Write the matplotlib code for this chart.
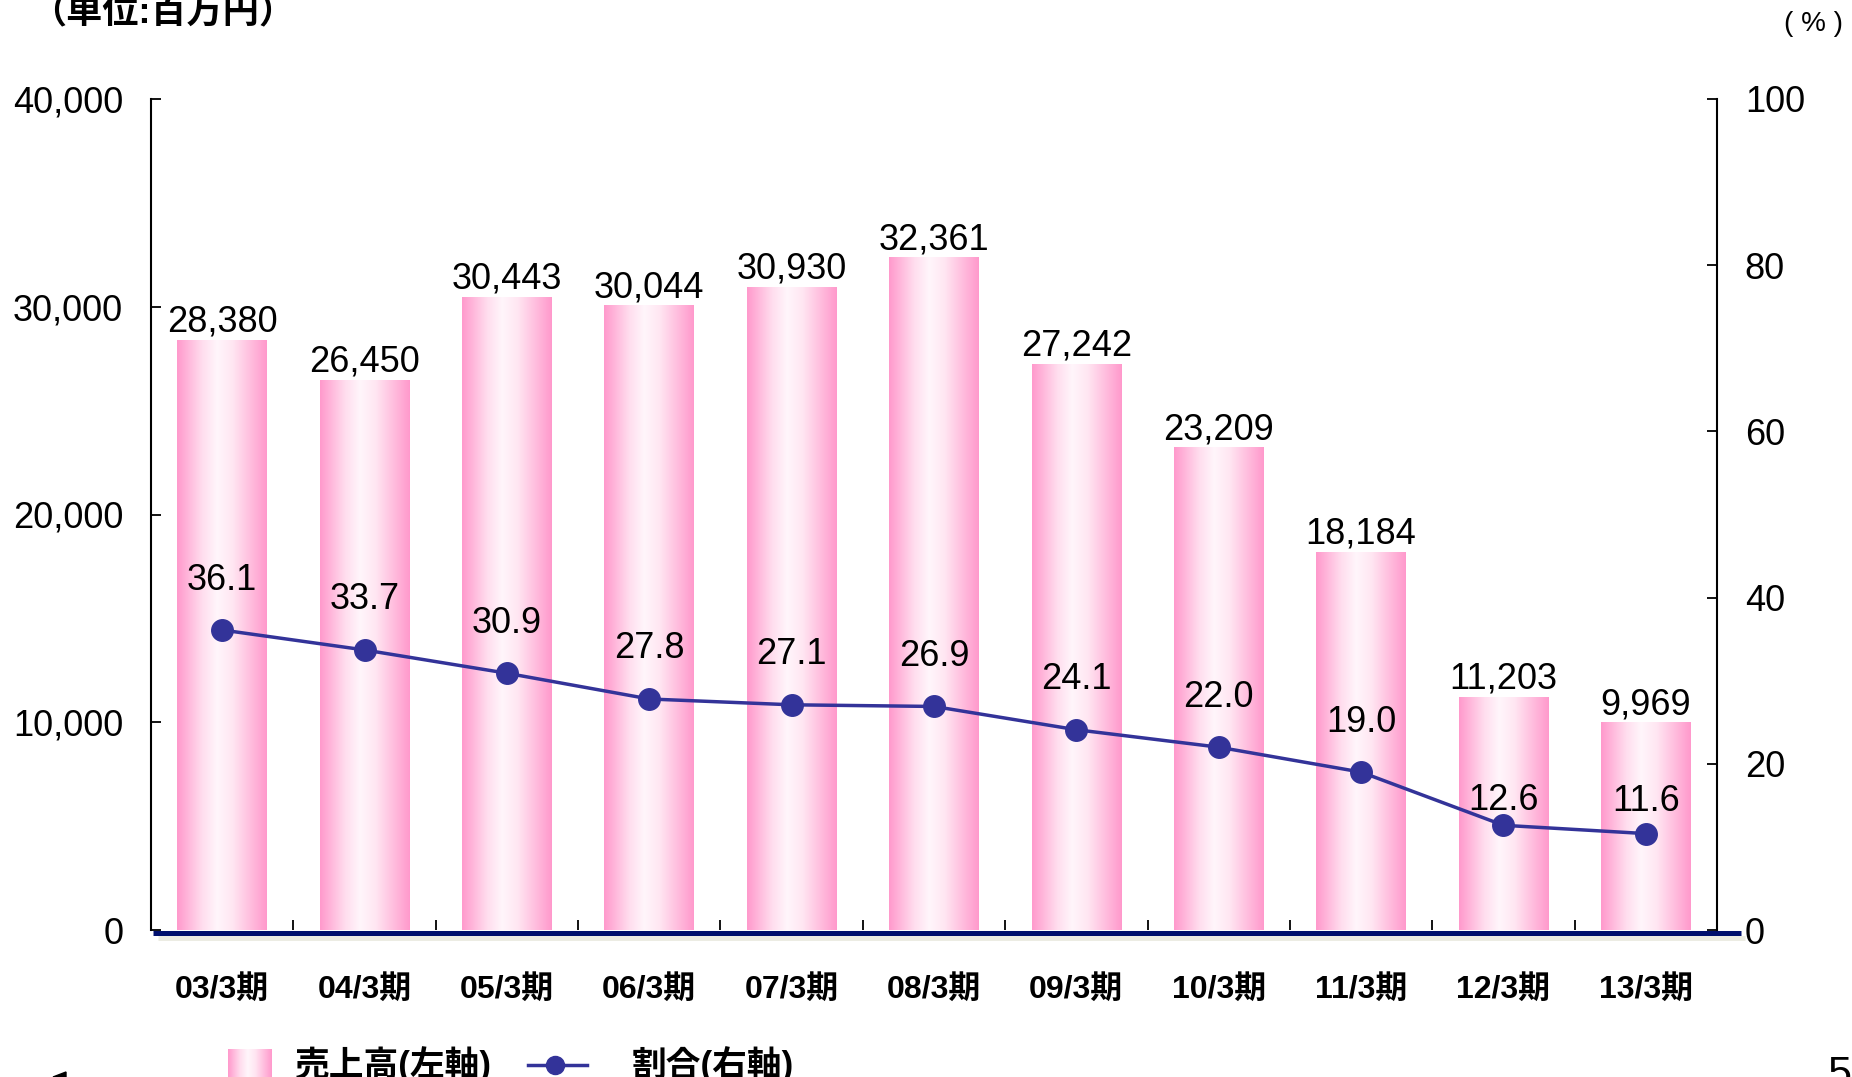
import numpy as np
import matplotlib
matplotlib.use('Agg')
import matplotlib.pyplot as plt
from matplotlib.colors import LinearSegmentedColormap
from matplotlib.lines import Line2D
from matplotlib.patches import Polygon
from matplotlib.transforms import ScaledTranslation

plt.rcParams['font.family'] = ['Liberation Sans', 'Noto Sans CJK JP']

# ---- data ----
categories = ['03/3期', '04/3期', '05/3期', '06/3期', '07/3期', '08/3期',
              '09/3期', '10/3期', '11/3期', '12/3期', '13/3期']
sales = [28380, 26450, 30443, 30044, 30930, 32361, 27242, 23209, 18184, 11203, 9969]
ratio = [36.1, 33.7, 30.9, 27.8, 27.1, 26.9, 24.1, 22.0, 19.0, 12.6, 11.6]
left_ticks = [0, 10000, 20000, 30000, 40000]
right_ticks = [0, 20, 40, 60, 80, 100]
legend_labels = ['売上高(左軸)', '割合(右軸)']

# ---- style ----
W, H = 1852, 1077
PINK = '#FF99CC'
NAVY_LINE = '#333399'
ratio_label_offsets = [36, 36, 36, 36, 36, 36, 36, 36, 36, 18, 23]  # points

fig = plt.figure(figsize=(W / 100, H / 100), dpi=100)
ax = fig.add_axes([151 / W, 1 - 930 / H, (1717 - 151) / W, (930 - 99) / H])

cmap = LinearSegmentedColormap.from_list(
    'pk', [(0.0, PINK), (0.28, '#FFDDEE'), (0.45, '#FFF6FB'),
           (0.62, '#FFE6F2'), (1.0, PINK)])
grad = np.linspace(0, 1, 256)[None, :]

x = np.arange(len(categories))
bars = ax.bar(x, sales, width=0.63, color='none', edgecolor='none')
for b in bars:
    x0, y0, w, h = b.get_x(), b.get_y(), b.get_width(), b.get_height()
    ax.imshow(grad, cmap=cmap, aspect='auto', extent=(x0, x0 + w, y0, y0 + h),
              zorder=2, interpolation='bilinear')

ax.set_xlim(-0.5, len(categories) - 0.5)
ax.set_ylim(0, 40000)

for xi, v in zip(x, sales):
    ax.annotate(f'{v:,}', (xi, v), xytext=(0, 13), textcoords='offset points',
                ha='center', va='center', fontsize=26, color='black', zorder=6)

ax.set_yticks(left_ticks)
ax.set_yticklabels([f'{t:,}' for t in left_ticks])
ax.tick_params(axis='y', direction='in', length=7, width=1.3, pad=20, labelsize=26)

ax.set_xticks(x)
ax.set_xticklabels(categories, fontsize=23, fontweight='bold')
ax.tick_params(axis='x', which='major', length=0, pad=32)
ax.set_xticks(np.arange(0.5, len(categories) - 1, 1.0), minor=True)
ax.tick_params(axis='x', which='minor', direction='in', length=7, width=1.3)

for s in ['top', 'right', 'bottom']:
    ax.spines[s].set_visible(False)
ax.spines['left'].set_linewidth(1.5)

# bottom navy axis line with light shadow
shadow_tr = ax.transAxes + ScaledTranslation(0, -7.5 / 100, fig.dpi_scale_trans)
ax.plot([7 / 1566, 1594 / 1566], [0, 0], transform=shadow_tr, color='#ECECE3',
        lw=3.6, clip_on=False, solid_capstyle='butt', zorder=4)
navy_tr = ax.transAxes + ScaledTranslation(0, -2.5 / 100, fig.dpi_scale_trans)
ax.plot([2 / 1566, 1590 / 1566], [0, 0], transform=navy_tr, color='#00106E',
        lw=3.6, clip_on=False, solid_capstyle='butt', zorder=5)

# right axis
ax2 = ax.twinx()
ax2.set_ylim(0, 100)
ax2.set_yticks(right_ticks)
ax2.tick_params(axis='y', direction='in', length=7, width=1.3, pad=20, labelsize=26)
for s in ['top', 'left', 'bottom']:
    ax2.spines[s].set_visible(False)
ax2.spines['right'].set_linewidth(1.5)

ax2.plot(x, ratio, color=NAVY_LINE, lw=2.5, marker='o', ms=15.5, zorder=3)
for xi, r, dy in zip(x, ratio, ratio_label_offsets):
    ax2.annotate(f'{r:.1f}', (xi, r), xytext=(0, dy), textcoords='offset points',
                 ha='center', va='center', fontsize=26, color='black')

# unit labels
fig.text(30 / W, 1 - 22 / H, '（単位:百万円）', fontsize=26, fontweight='bold',
         ha='left', va='baseline')
fig.text(1814 / W, 1 - 31 / H, '( % )', fontsize=20, ha='center', va='baseline')

# legend
lax = fig.add_axes([228 / W, 0, 44 / W, (1077 - 1049) / H])
lax.imshow(grad, cmap=cmap, aspect='auto', interpolation='bilinear')
lax.axis('off')
ly = 1 - 1065 / H
fig.text(295 / W, ly, legend_labels[0], fontsize=25, fontweight='bold', va='center')
fig.add_artist(Line2D([528 / W, 587 / W], [ly, ly], transform=fig.transFigure,
                      color=NAVY_LINE, lw=2.5))
fig.add_artist(Line2D([555 / W], [ly], transform=fig.transFigure, color=NAVY_LINE,
                      marker='o', ms=13, lw=0))
fig.text(632 / W, ly, legend_labels[1], fontsize=25, fontweight='bold', va='center')

# page edge artifacts
fig.text(1827 / W, 1 - 1086 / H, '5', fontsize=31, ha='left', va='baseline')
fig.add_artist(Polygon([[53 / W, 0], [66 / W, 5 / H], [66 / W, 0]], closed=True,
                       transform=fig.transFigure, color='black'))

fig.savefig('out.png', dpi=100)
